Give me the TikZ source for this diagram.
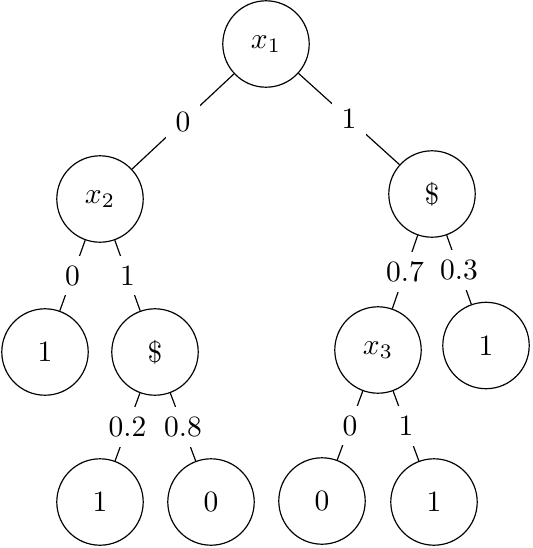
\documentclass[tikz,border=0pt]{standalone}
\begin{document}
\begin{tikzpicture}[x=0.339pt,y=-0.339pt,
  vtx/.style={circle,draw,minimum size=29.3pt,inner sep=0pt},
  lbl/.style={fill=white}]
\useasboundingbox (0,0) rectangle (532,548);
\node[vtx] (r) at (266,44) {$x_1$};
\node[vtx] (a) at (100,199) {$x_2$};
\node[vtx] (b) at (432,194) {\$};
\node[vtx] (a1) at (45,352) {1};
\node[vtx] (a2) at (155,352) {\$};
\node[vtx] (b1) at (378,350) {$x_3$};
\node[vtx] (b2) at (486,345.5) {1};
\node[vtx] (c1) at (100,502) {1};
\node[vtx] (c2) at (211,502) {0};
\node[vtx] (d1) at (322,501) {0};
\node[vtx] (d2) at (434,502) {1};
\draw (r) -- node[lbl] {0} (a);
\draw (r) -- node[lbl] {1} (b);
\draw (a) -- node[lbl] {0} (a1);
\draw (a) -- node[lbl] {1} (a2);
\draw (b) -- node[lbl] {0.7} (b1);
\draw (b) -- node[lbl] {0.3} (b2);
\draw (a2) -- node[lbl] {0.2} (c1);
\draw (a2) -- node[lbl] {0.8} (c2);
\draw (b1) -- node[lbl] {0} (d1);
\draw (b1) -- node[lbl] {1} (d2);
\end{tikzpicture}
\end{document}
